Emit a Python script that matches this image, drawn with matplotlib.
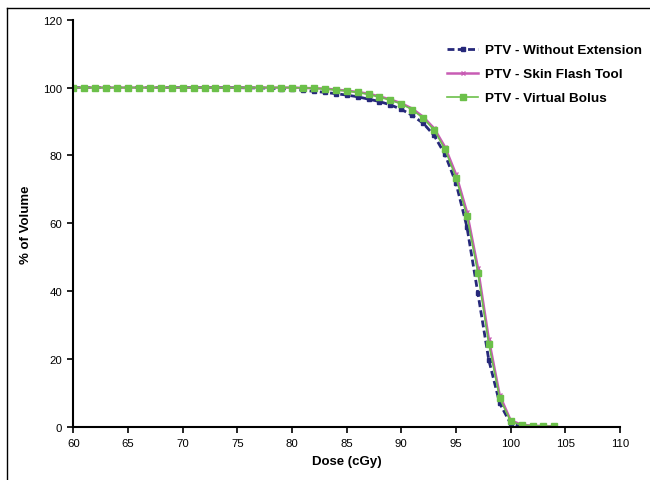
import numpy as np
import matplotlib
matplotlib.use('Agg')
import matplotlib.pyplot as plt
from matplotlib.lines import Line2D

plt.rcParams['font.family'] = ['Liberation Sans', 'DejaVu Sans']

# dose axis (cGy), one point per cGy
dose = list(range(60, 105))

# PTV - Without Extension
without_ext = [100] * 16 + [99.9, 99.9, 99.8, 99.7, 99.5, 99.2, 98.9, 98.6, 98.2, 97.8,
                            97.3, 96.6, 95.9, 94.9, 93.6, 91.8, 89.5, 85.9, 80.3, 71.9,
                            59.0, 39.5, 19.8, 7.0, 1.0, 0.3, 0.1, 0.1, 0.0]

# PTV - Skin Flash Tool
skin_flash = [100] * 21 + [99.9, 99.8, 99.7, 99.4, 99.1, 98.7, 98.2, 97.4, 96.5, 95.4,
                           93.8, 91.4, 88.0, 82.5, 74.5, 63.4, 47.0, 26.0, 9.4, 2.0,
                           0.7, 0.4, 0.3, 0.2]

# PTV - Virtual Bolus
virtual_bolus = [100] * 21 + [99.9, 99.8, 99.6, 99.3, 99.0, 98.6, 98.0, 97.2, 96.3, 95.2,
                              93.5, 91.0, 87.5, 81.8, 73.5, 62.2, 45.5, 24.5, 8.5, 1.7,
                              0.6, 0.4, 0.3, 0.2]

labels = ['PTV - Without Extension', 'PTV - Skin Flash Tool', 'PTV - Virtual Bolus']

fig = plt.figure(figsize=(6.5, 4.81), dpi=100)
ax = fig.add_axes([0.1128, 0.110, 0.841, 0.847])

ax.plot(dose, without_ext, color='#26287a', linestyle='--', linewidth=2.0,
        marker='s', markersize=3.5, label=labels[0], dashes=(2.5, 1.2))
ax.plot(dose, skin_flash, color='#c85cb4', linestyle='-', linewidth=1.8,
        marker='x', markersize=3, markeredgewidth=1, label=labels[1])
ax.plot(dose, virtual_bolus, color='#6cc04a', linestyle='-', linewidth=1.2,
        marker='s', markersize=4.5, label=labels[2])

ax.set_xlim(60, 110)
ax.set_ylim(0, 120)
ax.set_xticks(range(60, 111, 5))
ax.set_yticks(range(0, 121, 20))
ax.tick_params(direction='out', length=4, width=1.2, labelsize=8.2, colors='black', pad=4)

for s in ['top', 'right']:
    ax.spines[s].set_visible(False)
for s in ['left', 'bottom']:
    ax.spines[s].set_linewidth(1.5)

ax.set_xlabel('Dose (cGy)', fontsize=9.5, fontweight='bold', labelpad=5)
ax.set_ylabel('% of Volume', fontsize=9.5, fontweight='bold', labelpad=8)

leg = ax.legend(loc='upper left', bbox_to_anchor=(0.662, 0.97), frameon=False,
                prop={'size': 9.7, 'weight': 'bold'}, handlelength=2.3,
                labelspacing=0.85, handletextpad=0.5)

# outer chart border (cut off at right and bottom)
fig.add_artist(Line2D([0.011, 0.011], [0, 0.981], color='black', linewidth=1))
fig.add_artist(Line2D([0.011, 1], [0.981, 0.981], color='black', linewidth=1))

fig.savefig('out.png', dpi=100)
